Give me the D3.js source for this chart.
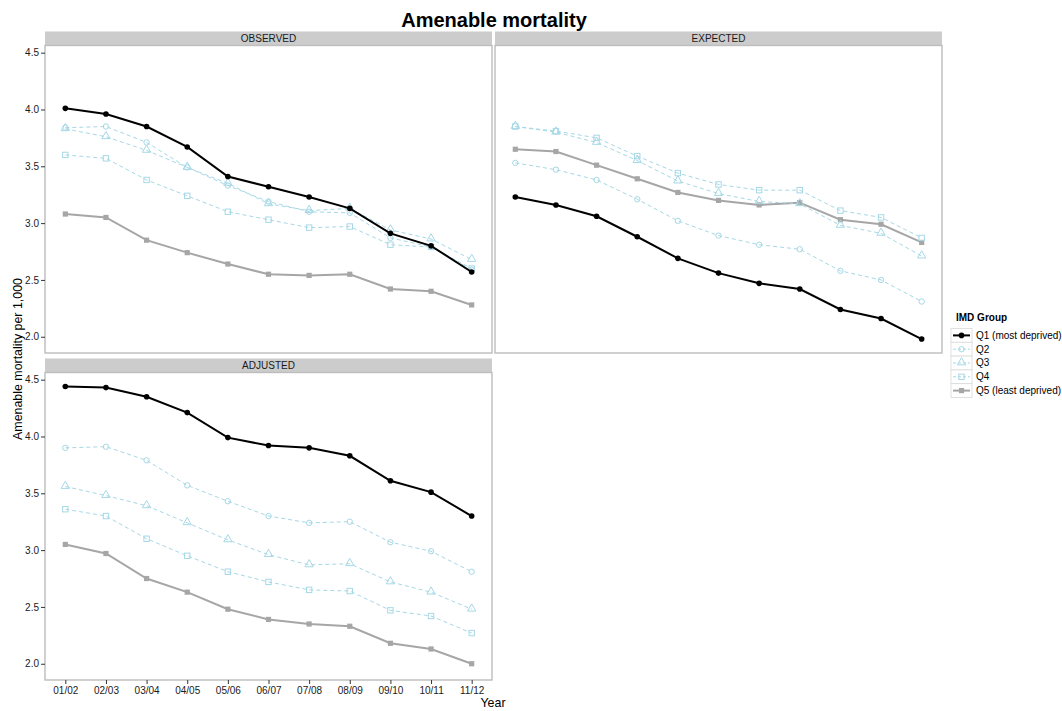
<!DOCTYPE html>
<html lang="en">
<head>
<meta charset="utf-8">
<title>Amenable mortality</title>
<script src="https://d3js.org/d3.v7.min.js"></script>
<style>
  body { margin: 0; background: #fff; font-family: "Liberation Sans", Arial, sans-serif; }
  .tick text { font-size: 10px; fill: #1a1a1a; }
  .tick line { stroke: #333; }
</style>
</head>
<body>
<div id="chart"></div>
<script>
// data
var years = ["01/02", "02/03", "03/04", "04/05", "05/06", "06/07", "07/08", "08/09", "09/10", "10/11", "11/12"];
var groups = ["Q1 (most deprived)", "Q2", "Q3", "Q4", "Q5 (least deprived)"];
var yTicks = [2.0, 2.5, 3.0, 3.5, 4.0, 4.5];

var observed = [
  [4.01, 3.96, 3.85, 3.67, 3.41, 3.32, 3.23, 3.13, 2.91, 2.80, 2.57],
  [3.84, 3.85, 3.71, 3.49, 3.33, 3.19, 3.10, 3.09, 2.87, 2.79, 2.59],
  [3.83, 3.76, 3.64, 3.49, 3.35, 3.17, 3.11, 3.13, 2.94, 2.86, 2.68],
  [3.60, 3.57, 3.38, 3.24, 3.10, 3.03, 2.96, 2.97, 2.81, 2.79, 2.60],
  [3.08, 3.05, 2.85, 2.74, 2.64, 2.55, 2.54, 2.55, 2.42, 2.40, 2.28]
];
var expected = [
  [3.23, 3.16, 3.06, 2.88, 2.69, 2.56, 2.47, 2.42, 2.24, 2.16, 1.98],
  [3.53, 3.47, 3.38, 3.21, 3.02, 2.89, 2.81, 2.77, 2.58, 2.50, 2.31],
  [3.85, 3.80, 3.71, 3.55, 3.37, 3.26, 3.19, 3.17, 2.98, 2.91, 2.71],
  [3.85, 3.81, 3.75, 3.59, 3.44, 3.34, 3.29, 3.29, 3.11, 3.05, 2.87],
  [3.65, 3.63, 3.51, 3.39, 3.27, 3.20, 3.16, 3.18, 3.03, 2.99, 2.83]
];
var adjusted = [
  [4.44, 4.43, 4.35, 4.21, 3.99, 3.92, 3.90, 3.83, 3.61, 3.51, 3.30],
  [3.90, 3.91, 3.79, 3.57, 3.43, 3.30, 3.24, 3.25, 3.07, 2.99, 2.81],
  [3.56, 3.48, 3.39, 3.24, 3.09, 2.96, 2.87, 2.88, 2.72, 2.63, 2.48],
  [3.36, 3.30, 3.10, 2.95, 2.81, 2.72, 2.65, 2.64, 2.47, 2.42, 2.27],
  [3.05, 2.97, 2.75, 2.63, 2.48, 2.39, 2.35, 2.33, 2.18, 2.13, 2.00]
];

var panels = [
  {name: "OBSERVED", values: observed, x0: 45, y0: 45.5, yAxis: true, xAxis: false},
  {name: "EXPECTED", values: expected, x0: 495, y0: 45.5, yAxis: false, xAxis: false},
  {name: "ADJUSTED", values: adjusted, x0: 45, y0: 372.5, yAxis: true, xAxis: true}
];

var W = 1062, H = 711;
var pw = 447, ph = 307.5, stripH = 14;

// style per group
var styles = [
  {color: "#000000", dash: null, width: 2, shape: "dot"},
  {color: "#a6d8e6", dash: "4,3", width: 1, shape: "circle"},
  {color: "#a6d8e6", dash: "4,3", width: 1, shape: "triangle"},
  {color: "#a6d8e6", dash: "4,3", width: 1, shape: "square"},
  {color: "#a6a6a6", dash: null, width: 2, shape: "fsquare"}
];

var svg = d3.select("#chart").append("svg")
  .attr("width", W).attr("height", H);

// shared y scale with ggplot-like 5% expansion
var allVals = d3.merge([observed, expected, adjusted].map(function(a) { return d3.merge(a); }));
var lo = d3.min(allVals), hi = d3.max(allVals), pad = (hi - lo) * 0.05;

var x = d3.scalePoint().domain(years).range([0, pw]).padding(0.5);
var y = d3.scaleLinear().domain([lo - pad, hi + pad]).range([ph, 0]);

var line = d3.line()
  .x(function(d, i) { return x(years[i]); })
  .y(function(d) { return y(d); });

function drawMarker(g, s, px, py) {
  if (s.shape === "dot") {
    g.append("circle").attr("cx", px).attr("cy", py).attr("r", 2.8).attr("fill", s.color);
  } else if (s.shape === "circle") {
    g.append("circle").attr("cx", px).attr("cy", py).attr("r", 2.7)
      .attr("fill", "none").attr("stroke", s.color).attr("stroke-width", 1);
  } else if (s.shape === "triangle") {
    g.append("path").attr("d", d3.symbol().type(d3.symbolTriangle).size(30)())
      .attr("transform", "translate(" + px + "," + (py - 0.5) + ")")
      .attr("fill", "none").attr("stroke", s.color).attr("stroke-width", 1);
  } else if (s.shape === "square") {
    g.append("rect").attr("x", px - 2.7).attr("y", py - 2.7).attr("width", 5.4).attr("height", 5.4)
      .attr("fill", "none").attr("stroke", s.color).attr("stroke-width", 1);
  } else {
    g.append("rect").attr("x", px - 2.6).attr("y", py - 2.6).attr("width", 5.2).attr("height", 5.2)
      .attr("fill", s.color);
  }
}

panels.forEach(function(p) {
  // strip
  svg.append("rect")
    .attr("x", p.x0).attr("y", p.y0 - stripH)
    .attr("width", pw).attr("height", stripH)
    .attr("fill", "#cccccc");
  svg.append("text")
    .attr("x", p.x0 + pw / 2).attr("y", p.y0 - stripH / 2)
    .attr("dy", "0.35em").attr("text-anchor", "middle")
    .style("font-size", "10px").style("fill", "#1a1a1a")
    .text(p.name);

  var g = svg.append("g").attr("transform", "translate(" + p.x0 + "," + p.y0 + ")");

  g.append("rect").attr("width", pw).attr("height", ph)
    .attr("fill", "#fff").attr("stroke", "#bdbdbd").attr("stroke-width", 1.4);

  if (p.yAxis) {
    g.append("g")
      .call(d3.axisLeft(y).tickValues(yTicks).tickFormat(d3.format(".1f")).tickSize(4).tickPadding(2))
      .call(function(a) { a.select(".domain").remove(); });
  }
  if (p.xAxis) {
    g.append("g")
      .attr("transform", "translate(0," + ph + ")")
      .call(d3.axisBottom(x).tickSize(4).tickPadding(3))
      .call(function(a) { a.select(".domain").remove(); });
  }

  // draw from Q5 up to Q1 so Q1 sits on top
  for (var k = groups.length - 1; k >= 0; k--) {
    var s = styles[k];
    g.append("path")
      .datum(p.values[k])
      .attr("d", line)
      .attr("fill", "none")
      .attr("stroke", s.color)
      .attr("stroke-width", s.width)
      .attr("stroke-dasharray", s.dash);
    p.values[k].forEach(function(v, i) {
      drawMarker(g, s, x(years[i]), y(v));
    });
  }
});

// title
svg.append("text")
  .attr("x", 494).attr("y", 27)
  .attr("text-anchor", "middle")
  .style("font-size", "20px").style("font-weight", "bold")
  .text("Amenable mortality");

// axis titles
svg.append("text")
  .attr("x", 493).attr("y", 707)
  .attr("text-anchor", "middle")
  .style("font-size", "12.4px")
  .text("Year");

svg.append("text")
  .attr("transform", "translate(22,359) rotate(-90)")
  .attr("text-anchor", "middle")
  .style("font-size", "12.4px")
  .text("Amenable mortality per 1,000");

// legend
var leg = svg.append("g").attr("transform", "translate(951,314)");
leg.append("text")
  .attr("x", 5).attr("y", 7)
  .style("font-size", "10px").style("font-weight", "bold")
  .text("IMD Group");

var keyH = 13.8, keyW = 21;
groups.forEach(function(name, k) {
  var s = styles[k];
  var row = leg.append("g").attr("transform", "translate(0," + (14.5 + k * keyH) + ")");
  row.append("rect")
    .attr("width", keyW).attr("height", keyH)
    .attr("fill", "#fff").attr("stroke", "#d9d9d9").attr("stroke-width", 0.8);
  row.append("line")
    .attr("x1", 2).attr("x2", keyW - 2)
    .attr("y1", keyH / 2).attr("y2", keyH / 2)
    .attr("stroke", s.color).attr("stroke-width", s.width)
    .attr("stroke-dasharray", s.dash ? "3,2" : null);
  drawMarker(row, s, keyW / 2, keyH / 2);
  row.append("text")
    .attr("x", keyW + 4).attr("y", keyH / 2)
    .attr("dy", "0.35em")
    .style("font-size", "10px")
    .text(name);
});
</script>
</body>
</html>
